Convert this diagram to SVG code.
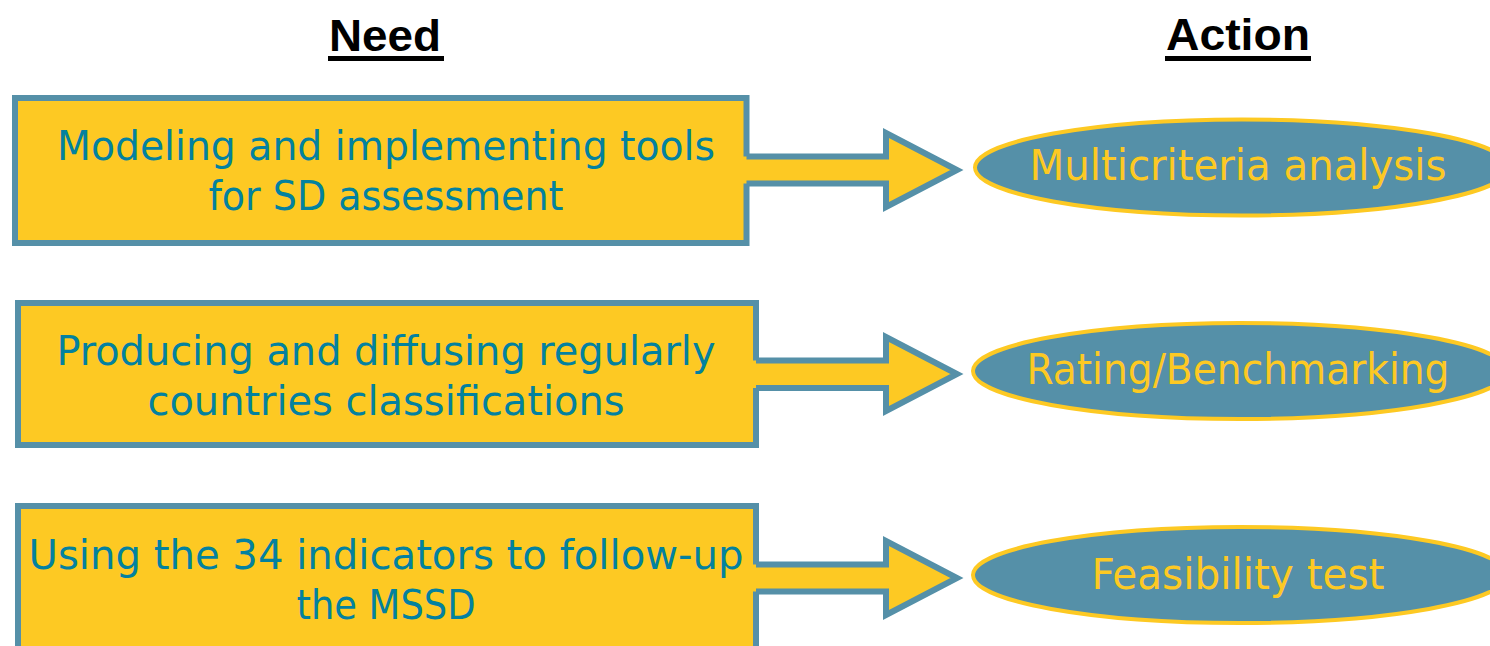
<svg xmlns="http://www.w3.org/2000/svg" width="1490" height="646" viewBox="0 0 1490 646">
<style>
.box{fill:#FDC923;stroke:#5590A8;stroke-width:6}
.af{fill:#FDC923;stroke:none}
.as{fill:none;stroke:#5590A8;stroke-width:6;stroke-linejoin:miter;stroke-miterlimit:10}
.ell{fill:#5590A8;stroke:#FDC923;stroke-width:4}
.bt{font-family:"DejaVu Sans Condensed","DejaVu Sans",sans-serif;font-size:41px;fill:#03819F;text-anchor:middle}
.et{font-family:"DejaVu Sans Condensed","DejaVu Sans",sans-serif;font-size:42px;fill:#FDC923;text-anchor:middle}
.hd{font-family:"Liberation Sans",Arial,sans-serif;font-size:44px;font-weight:bold;fill:#000;text-anchor:middle}
</style>
<rect width="1490" height="646" fill="#fff"/>
<g id="headers">
<text class="hd" x="385" y="51" textLength="112" lengthAdjust="spacingAndGlyphs">Need</text>
<rect x="328" y="56" width="116" height="5" fill="#000"/>
<text class="hd" x="1238" y="50" textLength="144" lengthAdjust="spacingAndGlyphs">Action</text>
<rect x="1165" y="56" width="146" height="5" fill="#000"/>
</g>
<g id="need1">
<rect class="box" x="15" y="98" width="731.5" height="145"/>
<text class="bt" x="386" y="160" textLength="658" lengthAdjust="spacingAndGlyphs">Modeling and implementing tools</text>
<text class="bt" x="386" y="210" textLength="355" lengthAdjust="spacingAndGlyphs">for SD assessment</text>
</g>
<g id="need2">
<rect class="box" x="18" y="303" width="738" height="142"/>
<text class="bt" x="386" y="365" textLength="659" lengthAdjust="spacingAndGlyphs">Producing and diffusing regularly</text>
<text class="bt" x="386" y="415" textLength="477" lengthAdjust="spacingAndGlyphs">countries classifications</text>
</g>
<g id="need3">
<rect class="box" x="18" y="506" width="738" height="200"/>
<text class="bt" x="386" y="569" textLength="715" lengthAdjust="spacingAndGlyphs">Using the 34 indicators to follow-up</text>
<text class="bt" x="386" y="619" textLength="179" lengthAdjust="spacingAndGlyphs">the MSSD</text>
</g>
<g id="connectors">
<polygon class="af" points="743,156.5 886,156.5 886,133 957,170 886,207 886,183.5 743,183.5"/>
<polyline class="as" points="746.5,156.5 886,156.5 886,133 957,170 886,207 886,183.5 746.5,183.5"/>
<polygon class="af" points="753,360.5 886,360.5 886,337 957,374 886,411 886,388 753,388"/>
<polyline class="as" points="756,360.5 886,360.5 886,337 957,374 886,411 886,388 756,388"/>
<polygon class="af" points="753,564.5 886,564.5 886,541 957,578 886,615 886,591.5 753,591.5"/>
<polyline class="as" points="756,564.5 886,564.5 886,541 957,578 886,615 886,591.5 756,591.5"/>
</g>
<g id="action1">
<ellipse class="ell" cx="1242" cy="167.5" rx="267" ry="48"/>
<text class="et" x="1238" y="180" textLength="417" lengthAdjust="spacingAndGlyphs">Multicriteria analysis</text>
</g>
<g id="action2">
<ellipse class="ell" cx="1240" cy="371" rx="267" ry="48"/>
<text class="et" x="1238" y="384" textLength="423" lengthAdjust="spacingAndGlyphs">Rating/Benchmarking</text>
</g>
<g id="action3">
<ellipse class="ell" cx="1240" cy="575" rx="267" ry="48"/>
<text class="et" x="1238" y="589" textLength="293" lengthAdjust="spacingAndGlyphs">Feasibility test</text>
</g>
</svg>
